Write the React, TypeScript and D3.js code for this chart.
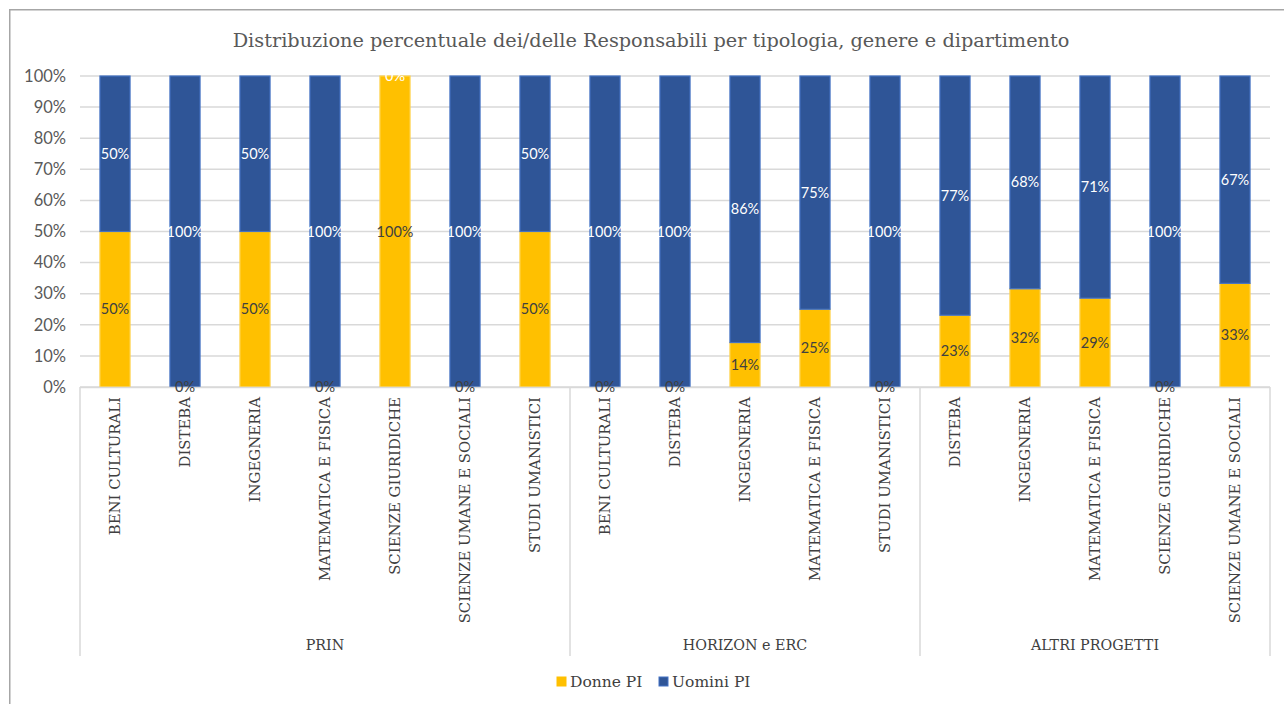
import React from 'react';
import * as d3 from 'd3';

const categories = [
  'BENI CULTURALI', 'DISTEBA', 'INGEGNERIA', 'MATEMATICA E FISICA', 'SCIENZE GIURIDICHE', 'SCIENZE UMANE E SOCIALI', 'STUDI UMANISTICI',
  'BENI CULTURALI', 'DISTEBA', 'INGEGNERIA', 'MATEMATICA E FISICA', 'STUDI UMANISTICI',
  'DISTEBA', 'INGEGNERIA', 'MATEMATICA E FISICA', 'SCIENZE GIURIDICHE', 'SCIENZE UMANE E SOCIALI',
];
const groupNames = ['PRIN', 'HORIZON e ERC', 'ALTRI PROGETTI'];
const groupSizes = [7, 5, 5];
const donne = [0.5, 0, 0.5, 0, 1, 0, 0.5, 0, 0, 0.1429, 0.25, 0, 0.2308, 0.3158, 0.2857, 0, 0.3333];
const uomini = [0.5, 1, 0.5, 1, 0, 1, 0.5, 1, 1, 0.8571, 0.75, 1, 0.7692, 0.6842, 0.7143, 1, 0.6667];
const yTicks = [0, 0.1, 0.2, 0.3, 0.4, 0.5, 0.6, 0.7, 0.8, 0.9, 1];
const seriesNames = ['Donne PI', 'Uomini PI'];

const TITLE = 'Distribuzione percentuale dei/delle Responsabili per tipologia, genere e dipartimento';
const YELLOW = '#FFC000';
const BLUE = '#2F5597';
const BLUE_STROKE = '#4472C4';
const SERIF = '"DejaVu Serif", serif';
const SANS = 'Lato, "Open Sans", sans-serif';

export default function App() {
  const left = 80, right = 1270, top = 76, bottom = 387;
  const x = d3.scaleBand<number>()
    .domain(d3.range(categories.length))
    .range([left, right])
    .paddingInner(0.57)
    .paddingOuter(0.285);
  const y = d3.scaleLinear().domain([0, 1]).range([bottom, top]);
  const fmt = d3.format('.0%');
  const step = x.step();

  const stackData = categories.map((c, i) => ({ i, donne: donne[i], uomini: uomini[i] }));
  const stack = d3.stack<any>().keys(['donne', 'uomini'])(stackData);

  const boundaries: number[] = [left];
  let acc = 0;
  groupSizes.forEach((s) => { acc += s; boundaries.push(left + acc * step); });

  return (
    <svg width={1284} height={704} style={{ position: 'absolute', left: 0, top: 0, background: '#fff' }}>
      <rect x={9.75} y={9.75} width={1290} height={710} fill="#fff" stroke="#a6a6a6" strokeWidth={1.5} />
      <text x={651} y={40} dy="0.35em" textAnchor="middle" fontFamily={SERIF} fontSize={19.3} fill="#595959">{TITLE}</text>

      {yTicks.map((t) => (
        <line key={t} x1={left} x2={right} y1={y(t)} y2={y(t)} stroke="#d9d9d9" strokeWidth={1.5} />
      ))}
      {yTicks.map((t) => (
        <text key={'l' + t} x={66} y={y(t)} dy="0.35em" textAnchor="end" fontFamily={SANS} fontSize={16.5} fill="#595959">{fmt(t)}</text>
      ))}

      {stack.map((layer, li) => (
        <g key={li}>
          {layer.map((d: any, i: number) => {
            const h = y(d[0]) - y(d[1]);
            if (h <= 0) return null;
            return (
              <rect key={i} x={x(i)!} y={y(d[1])} width={x.bandwidth()} height={h}
                fill={li === 0 ? YELLOW : BLUE}
                stroke={li === 0 ? '#FFD34D' : BLUE_STROKE} strokeWidth={1.2} />
            );
          })}
        </g>
      ))}

      <line x1={left} x2={right} y1={bottom + 0.5} y2={bottom + 0.5} stroke="#d9d9d9" strokeWidth={1.5} />
      {boundaries.map((b, i) => (
        <line key={i} x1={b} x2={b} y1={bottom} y2={656} stroke="#d9d9d9" strokeWidth={1.5} />
      ))}

      {stack.map((layer, li) => (
        <g key={'dl' + li}>
          {layer.map((d: any, i: number) => (
            <text key={i} x={x(i)! + x.bandwidth() / 2} y={y((d[0] + d[1]) / 2)} dy="0.35em" textAnchor="middle"
              fontFamily={SANS} fontSize={14.5} fill={li === 0 ? '#404040' : '#ffffff'}>
              {fmt(li === 0 ? donne[i] : uomini[i])}
            </text>
          ))}
        </g>
      ))}

      {categories.map((c, i) => {
        const cx = x(i)! + x.bandwidth() / 2;
        return (
          <text key={i} transform={`translate(${cx},397) rotate(-90)`} dy="0.35em" textAnchor="end"
            fontFamily={SERIF} fontSize={14.9} fill="#404040">{c}</text>
        );
      })}

      {groupNames.map((g, gi) => (
        <text key={g} x={(boundaries[gi] + boundaries[gi + 1]) / 2} y={645} dy="0.35em" textAnchor="middle"
          fontFamily={SERIF} fontSize={14.3} fill="#404040">{g}</text>
      ))}

      {seriesNames.map((s, i) => {
        const lx = i === 0 ? 557 : 659;
        return (
          <g key={s}>
            <rect x={lx} y={677} width={9} height={9} fill={i === 0 ? YELLOW : BLUE} stroke={i === 0 ? YELLOW : BLUE_STROKE} />
            <text x={lx + 13} y={682} dy="0.35em" fontFamily={SERIF} fontSize={15.5} fill="#404040">{s}</text>
          </g>
        );
      })}
    </svg>
  );
}
